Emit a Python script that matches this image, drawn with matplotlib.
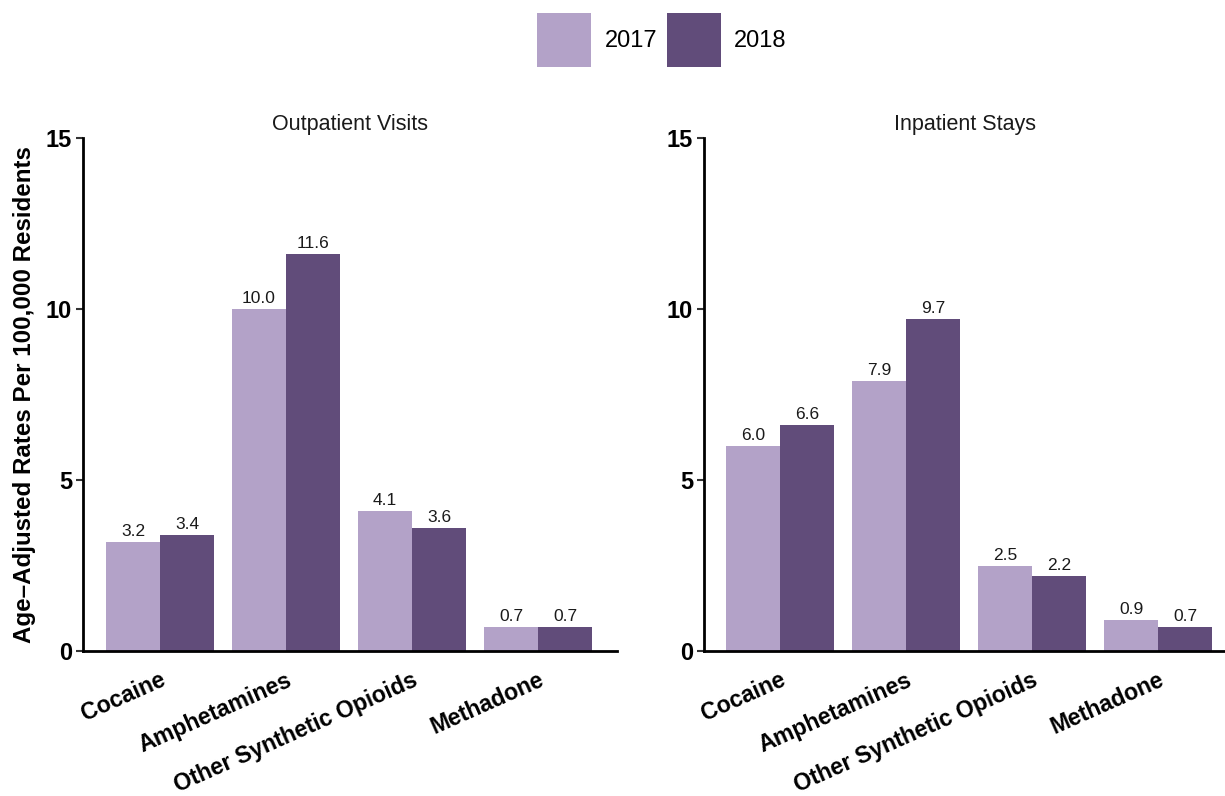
import matplotlib
matplotlib.use("Agg")
import matplotlib.pyplot as plt
from matplotlib.patches import Patch
import numpy as np

plt.rcParams['font.family'] = ['Liberation Sans', 'DejaVu Sans']

categories = ["Cocaine", "Amphetamines", "Other Synthetic Opioids", "Methadone"]
panels = ["Outpatient Visits", "Inpatient Stays"]
years = ["2017", "2018"]
outpatient_2017 = [3.2, 10.0, 4.1, 0.7]
outpatient_2018 = [3.4, 11.6, 3.6, 0.7]
inpatient_2017 = [6.0, 7.9, 2.5, 0.9]
inpatient_2018 = [6.6, 9.7, 2.2, 0.7]
yticks = [0, 5, 10, 15]

colors = ["#b3a2c8", "#614c7a"]

fig = plt.figure(figsize=(12.25, 7.96), dpi=100)
ax1 = fig.add_axes([83/1225, 145/796, 534/1225, 513/796])
ax2 = fig.add_axes([704/1225, 145/796, 521/1225, 513/796])

data = [(outpatient_2017, outpatient_2018), (inpatient_2017, inpatient_2018)]
xlims = [(-0.611, 3.627), (-0.603, 3.53)]
bw = 0.4286
x = np.arange(len(categories))
for ax, title, (d17, d18), xl in zip([ax1, ax2], panels, data, xlims):
    for i, (vals, col) in enumerate(zip((d17, d18), colors)):
        pos = x + (i - 0.5) * bw
        ax.bar(pos, vals, width=bw, color=col, linewidth=0)
        for p, v in zip(pos, vals):
            ax.text(p, v + 0.17, f"{v:.1f}", ha="center", va="baseline",
                    fontsize=12.5, color="#1a1a1a")
    ax.set_xlim(*xl)
    ax.set_ylim(0, 15)
    ax.set_yticks(yticks)
    ax.set_yticklabels([str(t) for t in yticks], fontsize=17, fontweight="bold")
    ax.set_xticks(x)
    ax.set_xticklabels(categories, fontsize=16.7, fontweight="bold",
                       rotation=24, ha="right", va="top", rotation_mode="anchor")
    ax.tick_params(axis="x", length=0, pad=12.5)
    ax.tick_params(axis="y", length=5, width=1.5, color="#333333", pad=3)
    for s in ["top", "right"]:
        ax.spines[s].set_visible(False)
    for s in ["left", "bottom"]:
        ax.spines[s].set_linewidth(2)
        ax.spines[s].set_color("black")
    ax.set_title(title, fontsize=15.5, pad=6, color="#1a1a1a")

ax1.set_ylabel("Age\u2013Adjusted Rates Per 100,000 Residents", fontsize=17.4,
               fontweight="bold", labelpad=7)

handles = [Patch(facecolor=c, label=y) for c, y in zip(colors, years)]
fig.legend(handles=handles, loc="center", bbox_to_anchor=(662/1225, 1 - 40/796),
           ncol=2, frameon=False, fontsize=17, handlelength=2.29, handleheight=3.15,
           handletextpad=0.55, columnspacing=0.42)

fig.savefig("out.png", dpi=100)
